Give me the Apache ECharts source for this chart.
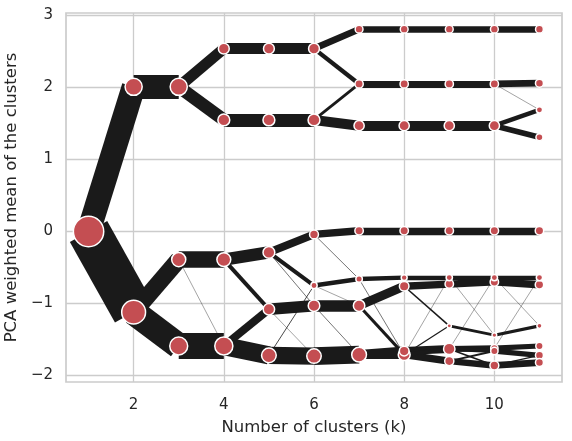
<!DOCTYPE html>
<html>
<head>
<meta charset="utf-8">
<script src="https://cdn.jsdelivr.net/npm/echarts@6.0.0/dist/echarts.min.js"></script>
<style>
html, body { margin: 0; padding: 0; background: #fff; }
#chart { width: 572px; height: 441px; }
</style>
</head>
<body>
<div id="chart"></div>
<script>
// number of clusters k = 1..11
const kRange = [1, 2, 3, 4, 5, 6, 7, 8, 9, 10, 11];
const totalSamples = 333;

// PCA weighted mean of each cluster, one list per k
const clusterMeans = [
  [0.00],
  [2.01, -1.12],
  [2.01, -0.39, -1.59],
  [2.54, 1.55, -0.39, -1.59],
  [2.54, 1.55, -0.29, -1.08, -1.72],
  [2.54, 1.55, -0.04, -0.75, -1.03, -1.73],
  [2.81, 2.05, 1.47, 0.01, -0.66, -1.03, -1.71],
  [2.81, 2.05, 1.47, 0.01, -0.64, -0.76, -1.66, -1.71],
  [2.81, 2.05, 1.47, 0.01, -0.64, -0.73, -1.31, -1.63, -1.80],
  [2.81, 2.05, 1.47, 0.01, -0.64, -0.70, -1.44, -1.62, -1.66, -1.86],
  [2.81, 2.06, 1.69, 1.31, 0.01, -0.64, -0.74, -1.31, -1.59, -1.72, -1.82]
];

// [k, cluster index at k, cluster index at k+1, number of samples moving]
const flows = [
  [1, 0, 0, 119], [1, 0, 1, 214],
  [2, 0, 0, 119], [2, 1, 1, 85], [2, 1, 2, 129],
  [3, 0, 0, 55], [3, 0, 1, 64], [3, 1, 2, 83], [3, 1, 3, 2], [3, 2, 3, 129],
  [4, 0, 0, 55], [4, 1, 1, 64], [4, 2, 2, 63], [4, 2, 3, 20], [4, 3, 3, 40], [4, 3, 4, 91],
  [5, 0, 0, 55], [5, 1, 1, 64], [5, 2, 2, 40], [5, 2, 3, 20], [5, 2, 4, 3], [5, 3, 4, 58],
  [5, 3, 5, 2], [5, 4, 5, 87], [5, 4, 3, 4],
  [6, 0, 0, 33], [6, 0, 1, 22], [6, 1, 1, 14], [6, 1, 2, 50], [6, 2, 3, 37], [6, 2, 4, 3],
  [6, 3, 4, 22], [6, 3, 5, 2], [6, 4, 5, 58], [6, 4, 6, 3], [6, 5, 6, 89],
  [7, 0, 0, 33], [7, 1, 1, 36], [7, 2, 2, 50], [7, 3, 3, 37], [7, 4, 4, 22], [7, 4, 7, 3],
  [7, 5, 5, 45], [7, 5, 7, 15], [7, 6, 6, 46], [7, 6, 7, 46],
  [8, 0, 0, 33], [8, 1, 1, 36], [8, 2, 2, 50], [8, 3, 3, 37], [8, 4, 4, 22], [8, 5, 5, 37],
  [8, 5, 6, 8], [8, 6, 7, 40], [8, 6, 8, 6], [8, 7, 8, 36], [8, 7, 7, 20], [8, 7, 6, 6], [8, 7, 4, 2],
  [9, 0, 0, 33], [9, 1, 1, 36], [9, 2, 2, 50], [9, 3, 3, 37], [9, 4, 4, 22], [9, 4, 6, 2],
  [9, 5, 5, 37], [9, 6, 6, 14], [9, 7, 7, 30], [9, 7, 8, 20], [9, 7, 4, 2], [9, 7, 9, 8],
  [9, 8, 9, 32], [9, 8, 8, 10],
  [10, 0, 0, 33], [10, 1, 1, 34], [10, 1, 2, 2], [10, 2, 2, 22], [10, 2, 3, 28], [10, 3, 4, 37],
  [10, 4, 5, 22], [10, 4, 7, 2], [10, 5, 6, 37], [10, 6, 7, 16], [10, 7, 8, 26], [10, 7, 5, 2],
  [10, 7, 9, 2], [10, 8, 9, 26], [10, 8, 8, 4], [10, 9, 10, 34], [10, 9, 9, 6]
];

const xTicks = [2, 4, 6, 8, 10];
const yTicks = [-2, -1, 0, 1, 2, 3];

// cluster sizes = samples flowing in (k = 1 holds everything)
let sizes = clusterMeans.map(m => m.map(() => 0));
sizes[0][0] = totalSamples;
flows.forEach(f => { sizes[f[0]][f[2]] += f[3]; });

let nodes = [];
kRange.forEach((k, i) => {
  let row = clusterMeans[i].map((m, j) => [k, m, sizes[i][j]]);
  row.sort((a, b) => b[2] - a[2]); // big ones first, small drawn on top
  nodes = nodes.concat(row);
});

let edges = flows.map(f => ({
  coords: [[f[0], clusterMeans[f[0] - 1][f[1]]], [f[0] + 1, clusterMeans[f[0]][f[2]]]],
  lineStyle: { width: f[3] * 0.2 }
}));

const txt = '#262626';
const gridColor = '#cccccc';
const font = 'DejaVu Sans';

let chart = echarts.init(document.getElementById('chart'));
chart.setOption({
  animation: false,
  backgroundColor: '#fff',
  grid: {
    left: 66, right: 10, top: 13, bottom: 59, outerBoundsMode: 'none', containLabel: false,
    show: true, borderColor: gridColor, borderWidth: 1.7
  },
  xAxis: {
    type: 'value', min: 0.5, max: 11.5,
    name: 'Number of clusters (k)', nameLocation: 'middle', nameGap: 37,
    nameTextStyle: { color: txt, fontSize: 16.5, fontFamily: font },
    axisLine: { show: false },
    axisTick: { show: false, customValues: xTicks },
    axisLabel: { customValues: xTicks, color: txt, fontSize: 15, fontFamily: font, margin: 16 },
    splitLine: { show: true, lineStyle: { color: gridColor, width: 1.3 } }
  },
  yAxis: {
    type: 'value', min: -2.09, max: 3.035,
    name: 'PCA weighted mean of the clusters', nameLocation: 'middle', nameGap: 39,
    nameTextStyle: { color: txt, fontSize: 16.5, fontFamily: font },
    axisLine: { show: false },
    axisTick: { show: false, customValues: yTicks },
    axisLabel: {
      customValues: yTicks, color: txt, fontSize: 15, fontFamily: font, margin: 13,
      formatter: v => String(v).replace('-', '\u2212')
    },
    splitLine: { show: true, lineStyle: { color: gridColor, width: 1.3 } }
  },
  series: [
    {
      type: 'lines',
      coordinateSystem: 'cartesian2d',
      z: 2,
      silent: true,
      lineStyle: { color: '#1a1a1a', opacity: 1, cap: 'butt', curveness: 0 },
      data: edges
    },
    {
      type: 'scatter',
      z: 3,
      silent: true,
      symbolSize: v => 1.8 * Math.sqrt(v[2]) - 2.5,
      itemStyle: { color: '#c44e52', borderColor: '#ffffff', borderWidth: 1.5, opacity: 1 },
      data: nodes
    }
  ]
});
</script>
</body>
</html>
